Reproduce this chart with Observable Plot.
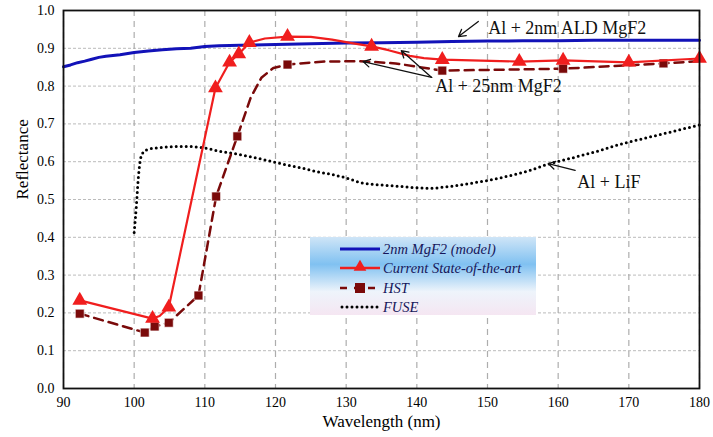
<!DOCTYPE html>
<html><head><meta charset="utf-8">
<script src="https://cdn.jsdelivr.net/npm/d3@7"></script>
<script src="https://cdn.jsdelivr.net/npm/@observablehq/plot@0.6"></script>
<style>body{margin:0;background:#fff}</style>
</head><body><div id="chart"></div>
<script>
// ---- data ----
const xTicks = [90,100,110,120,130,140,150,160,170,180];
const yTicks = [0,0.1,0.2,0.3,0.4,0.5,0.6,0.7,0.8,0.9,1.0];

const modelX = [90,91,92,93,94,95,96,98,100,102,104,106,108,110,112,115,120,125,130,135,140,145,150,155,160,165,170,175,180];
const modelY = [0.851,0.856,0.862,0.866,0.871,0.876,0.879,0.883,0.889,0.893,0.896,0.899,0.900,0.905,0.907,0.908,0.910,0.912,0.914,0.915,0.916,0.918,0.919,0.920,0.920,0.921,0.921,0.921,0.921];

// Current state-of-the-art: marker points and traced curve
const sotaX = [92.3,102.6,104.9,111.5,113.5,114.8,116.3,121.7,133.6,143.6,154.5,160.7,170.0,180.0];
const sotaY = [0.233,0.185,0.215,0.795,0.863,0.885,0.915,0.931,0.905,0.870,0.865,0.868,0.863,0.873];
const sotaLineX = [92.3,102.6,103.6,104.9,111.5,113.5,114.8,116.3,118.5,121.7,125,128,131,133.6,136,139,141,143.6,154.5,160.7,170.0,180.0];
const sotaLineY = [0.233,0.185,0.192,0.215,0.795,0.863,0.885,0.915,0.926,0.931,0.930,0.923,0.913,0.905,0.895,0.880,0.874,0.870,0.865,0.868,0.863,0.873];

// HST: marker points and traced curve
const hstX = [92.3,101.5,102.9,104.9,109.1,111.6,114.6,121.7,143.6,160.7,174.9];
const hstY = [0.198,0.148,0.164,0.174,0.246,0.508,0.667,0.857,0.841,0.846,0.860];
const hstLineX = [92.3,101.5,102.9,104.9,109.1,111.6,114.6,116.5,118,119.7,121.7,127,132,137,143.6,160.7,174.9,180];
const hstLineY = [0.198,0.148,0.164,0.174,0.246,0.508,0.667,0.770,0.822,0.848,0.857,0.865,0.866,0.860,0.841,0.846,0.860,0.866];

const fuseX = [100,100.3,100.6,101,101.5,102,104,106,108,110,112,114,116,118,120,122,124,126,128,130,132,134,136,138,140,142,144,146,148,150,152,154,156,158,160,162,164,166,168,170,172,174,176,178,180];
const fuseY = [0.413,0.48,0.56,0.615,0.628,0.633,0.638,0.640,0.640,0.636,0.628,0.622,0.615,0.607,0.598,0.590,0.582,0.573,0.566,0.557,0.545,0.540,0.537,0.534,0.531,0.530,0.533,0.538,0.544,0.550,0.558,0.567,0.577,0.590,0.601,0.610,0.620,0.630,0.642,0.652,0.661,0.670,0.679,0.688,0.697];

const legendLabels = ["2nm MgF2 (model)","Current State-of-the-art","HST","FUSE"];

const noteText = ["Al + 2nm ALD MgF2","Al + 25nm MgF2","Al + LiF"];
const noteX = [150.1,142.6,162.7];
const noteY = [0.952,0.80,0.545];
const arrowX1 = [148.7,142.1,142.1,162.4];
const arrowY1 = [0.971,0.823,0.823,0.577];
const arrowX2 = [145.9,132.4,137.8,158.6];
const arrowY2 = [0.931,0.865,0.894,0.595];

// ---- build ----
const zip = (xs, ys) => xs.map((x,i)=>({x, y: ys[i]}));
const model = zip(modelX, modelY), sota = zip(sotaX, sotaY), sotaLine = zip(sotaLineX, sotaLineY),
      hst = zip(hstX, hstY), hstLine = zip(hstLineX, hstLineY), fuse = zip(fuseX, fuseY);
const notes = noteText.map((t,i)=>({t, x: noteX[i], y: noteY[i]}));
const arrows = arrowX1.map((x1,i)=>({x1, y1: arrowY1[i], x2: arrowX2[i], y2: arrowY2[i]}));

const SERIF = "Liberation Serif";
const RED = "#f01e1e", DRED = "#7a0a0a", BLUE = "#1212b8";

const plot = Plot.plot({
  width: 713, height: 437,
  marginLeft: 63, marginRight: 14, marginTop: 10, marginBottom: 49,
  style: {color: "#000", background: "#fff"},
  x: {domain: [90,180]},
  y: {domain: [0,1]},
  marks: [
    Plot.gridX(xTicks, {stroke: "#999", strokeOpacity: 0.8, strokeDasharray: "6,5", strokeWidth: 1.2}),
    Plot.gridY(yTicks.slice(1,-1), {stroke: "#aaa", strokeOpacity: 0.8, strokeDasharray: "3,2", strokeWidth: 1}),
    Plot.axisX({ticks: xTicks, tickSize: 0, tickPadding: 9, fontSize: 14, label: null}),
    Plot.axisY({ticks: yTicks, tickSize: 0, tickPadding: 9, fontSize: 14, label: null, tickFormat: d3.format(".1f")}),
    Plot.text(["Reflectance"], {frameAnchor: "left", rotate: -90, dx: -41, fontSize: 17}),
    Plot.text(["Wavelength (nm)"], {frameAnchor: "bottom", dy: 38, fontSize: 17}),
    Plot.line(fuse, {x: "x", y: "y", stroke: "#000", strokeWidth: 3, strokeDasharray: "0,5", strokeLinecap: "round", curve: "monotone-x"}),
    Plot.line(model, {x: "x", y: "y", stroke: BLUE, strokeWidth: 3}),
    Plot.line(hstLine, {x: "x", y: "y", stroke: DRED, strokeWidth: 2.5, strokeDasharray: "9,6"}),
    Plot.dot(hst, {x: "x", y: "y", symbol: "square", r: 5, fill: DRED, stroke: "#fff", strokeWidth: 0.6}),
    Plot.line(sotaLine, {x: "x", y: "y", stroke: RED, strokeWidth: 2.2}),
    Plot.dot(sota, {x: "x", y: "y", symbol: "triangle", r: 5.5, fill: RED}),
    Plot.arrow(arrows, {x1: "x1", y1: "y1", x2: "x2", y2: "y2", stroke: "#111", strokeWidth: 1.3, headLength: 9}),
    Plot.text(notes, {x: "x", y: "y", text: "t", textAnchor: "start", fontSize: 18, fill: "#111"}),
    Plot.frame({stroke: "#111", strokeWidth: 1.8})
  ]
});
document.getElementById("chart").appendChild(plot);

// ---- legend (inside the plot area) ----
const svg = d3.select(plot);
const defs = svg.append("defs");
const grad = defs.append("linearGradient").attr("id","lg").attr("x1",0).attr("y1",0).attr("x2",0).attr("y2",1);
[["0%","#cfe5f7"],["35%","#80c1f1"],["70%","#eef4fb"],["100%","#f5e6f2"]].forEach(([o,c])=>grad.append("stop").attr("offset",o).attr("stop-color",c));
const L = svg.append("g").attr("transform","translate(310,237)");
L.append("rect").attr("width",226).attr("height",78).attr("fill","url(#lg)");
const rowY = [12,31,51,70];
legendLabels.forEach((lab,i)=>{
  const g = L.append("g").attr("transform",`translate(0,${rowY[i]})`);
  if (i===0) g.append("line").attr("x1",30).attr("x2",70).attr("stroke",BLUE).attr("stroke-width",3);
  if (i===1) { g.append("line").attr("x1",30).attr("x2",70).attr("stroke",RED).attr("stroke-width",2.5);
    g.append("path").attr("d",d3.symbol(d3.symbolTriangle, 70)()).attr("transform","translate(50,-1)").attr("fill",RED); }
  if (i===2) { g.append("line").attr("x1",30).attr("x2",70).attr("stroke",DRED).attr("stroke-width",2.5).attr("stroke-dasharray","7,7");
    g.append("rect").attr("x",45).attr("y",-5).attr("width",10).attr("height",10).attr("fill",DRED); }
  if (i===3) g.append("line").attr("x1",32).attr("x2",70).attr("stroke","#000").attr("stroke-width",3).attr("stroke-dasharray","0,5").attr("stroke-linecap","round");
  g.append("text").attr("x",73).attr("dy","0.35em").attr("text-anchor","start").attr("font-style","italic").attr("font-size",14.5)
    .attr("fill","#16165a").text(lab);
});

// serif font on every text, set directly on elements
svg.attr("font-family", SERIF).style("font-family", SERIF);
svg.selectAll("g").filter(function(){ return this.hasAttribute("font-family"); }).attr("font-family", SERIF);
svg.selectAll("text").attr("font-family", SERIF).style("font-family", SERIF);
</script></body></html>
